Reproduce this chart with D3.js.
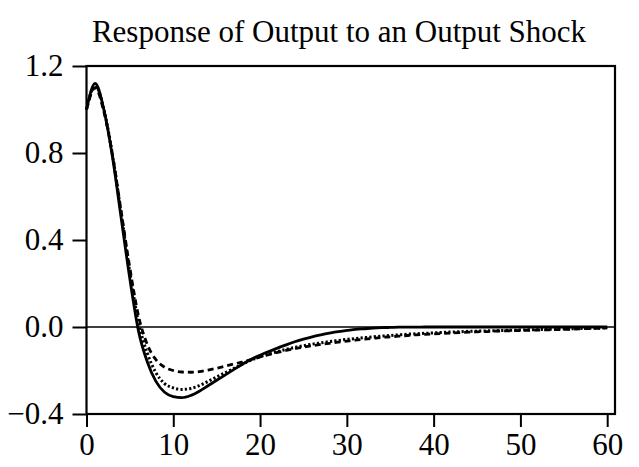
<!DOCTYPE html>
<html>
<head>
<meta charset="utf-8">
<script src="https://cdn.jsdelivr.net/npm/d3@7/dist/d3.min.js"></script>
<style>
  html, body { margin: 0; padding: 0; background: #fff; }
  svg text { font-family: "Liberation Serif", "Times New Roman", serif; fill: #000; }
</style>
</head>
<body>
<div id="chart"></div>
<script>
// ── Data ──────────────────────────────────────────────────────────────────────
const TITLE = "Response of Output to an Output Shock";
const HORIZON = d3.range(0, 61);
const X_TICKS = [0, 10, 20, 30, 40, 50, 60];
const Y_TICKS = [-0.4, 0.0, 0.4, 0.8, 1.2];

const SOLID = [
  1.00, 1.12, 1.00, 0.78, 0.50, 0.22, -0.02, -0.16, -0.25, -0.30,
  -0.32, -0.325, -0.315, -0.295, -0.27, -0.245, -0.22, -0.195, -0.17, -0.148,
  -0.13, -0.113, -0.097, -0.082, -0.068, -0.056, -0.045, -0.036, -0.028, -0.021,
  -0.016, -0.011, -0.008, -0.005, -0.003, -0.002, -0.001, -0.001, -0.001, 0,
  0, 0, 0, 0, 0, 0, 0, 0, 0, 0,
  0, 0, 0, 0, 0, 0, 0, 0, 0, 0, 0
];
const DOTTED = [
  1.00, 1.11, 1.00, 0.79, 0.52, 0.25, 0.02, -0.12, -0.21, -0.26,
  -0.28, -0.287, -0.283, -0.27, -0.25, -0.23, -0.21, -0.19, -0.17, -0.152,
  -0.137, -0.124, -0.113, -0.103, -0.094, -0.086, -0.079, -0.073, -0.067, -0.062,
  -0.057, -0.053, -0.049, -0.045, -0.042, -0.039, -0.036, -0.033, -0.031, -0.029,
  -0.027, -0.025, -0.023, -0.022, -0.020, -0.019, -0.018, -0.017, -0.016, -0.015,
  -0.014, -0.013, -0.012, -0.011, -0.010, -0.009, -0.008, -0.007, -0.006, -0.005, -0.004
];
const DASHED = [
  1.00, 1.10, 0.99, 0.79, 0.53, 0.27, 0.05, -0.08, -0.15, -0.185,
  -0.20, -0.207, -0.208, -0.205, -0.198, -0.19, -0.18, -0.17, -0.16, -0.15,
  -0.138, -0.127, -0.117, -0.108, -0.100, -0.093, -0.086, -0.080, -0.075, -0.070,
  -0.065, -0.060, -0.056, -0.052, -0.048, -0.045, -0.042, -0.039, -0.036, -0.034,
  -0.032, -0.030, -0.028, -0.026, -0.024, -0.022, -0.021, -0.019, -0.018, -0.017,
  -0.016, -0.015, -0.014, -0.013, -0.012, -0.011, -0.010, -0.008, -0.007, -0.006, -0.004
];

const SERIES = [
  { values: SOLID,  dash: null,    width: 2.8 },
  { values: DOTTED, dash: "2.2,2.2", width: 3.0 },
  { values: DASHED, dash: "6,4",   width: 2.8 },
];

// ── Dimensions ────────────────────────────────────────────────────────────────
const W = 639, H = 467;
const plot = { left: 86.5, right: 615, top: 66, bottom: 414 };

const svg = d3.select("#chart").append("svg")
  .attr("width", W).attr("height", H);

// ── Scales ────────────────────────────────────────────────────────────────────
const x = d3.scaleLinear().domain([0, 60.9]).range([plot.left, plot.right]);
const y = d3.scaleLinear().domain([-0.4, 1.2]).range([plot.bottom, plot.top]);

// ── Title ─────────────────────────────────────────────────────────────────────
svg.append("text")
  .attr("x", 339).attr("y", 42)
  .attr("text-anchor", "middle")
  .style("font-size", "31px")
  .text(TITLE);

// ── Zero line ─────────────────────────────────────────────────────────────────
svg.append("line")
  .attr("x1", plot.left).attr("x2", plot.right)
  .attr("y1", y(0)).attr("y2", y(0))
  .attr("stroke", "#000").attr("stroke-width", 1.5);

// ── Lines ─────────────────────────────────────────────────────────────────────
const line = d3.line()
  .x((d, i) => x(HORIZON[i]))
  .y(d => y(d))
  .curve(d3.curveMonotoneX);

SERIES.forEach(s => {
  svg.append("path")
    .attr("d", line(s.values))
    .attr("fill", "none")
    .attr("stroke", "#000")
    .attr("stroke-width", s.width)
    .attr("stroke-dasharray", s.dash);
});

// ── Frame ─────────────────────────────────────────────────────────────────────
svg.append("rect")
  .attr("x", plot.left).attr("y", plot.top)
  .attr("width", plot.right - plot.left)
  .attr("height", plot.bottom - plot.top)
  .attr("fill", "none").attr("stroke", "#000").attr("stroke-width", 2.2);

// ── Axes ──────────────────────────────────────────────────────────────────────
const xAxis = svg.append("g")
  .attr("transform", `translate(0,${plot.bottom})`)
  .call(d3.axisBottom(x).tickValues(X_TICKS).tickSize(13).tickPadding(6)
    .tickFormat(d3.format("d")));
xAxis.select(".domain").remove();
xAxis.selectAll("line").attr("stroke", "#000").attr("stroke-width", 2);
xAxis.selectAll("text").style("font-size", "31px").attr("fill", "#000");

const yAxis = svg.append("g")
  .attr("transform", `translate(${plot.left},0)`)
  .call(d3.axisLeft(y).tickValues(Y_TICKS).tickSize(14).tickPadding(9)
    .tickFormat(d3.format(".1f")));
yAxis.select(".domain").remove();
yAxis.selectAll("line").attr("stroke", "#000").attr("stroke-width", 2);
yAxis.selectAll("text").style("font-size", "31px").attr("fill", "#000");
</script>
</body>
</html>
